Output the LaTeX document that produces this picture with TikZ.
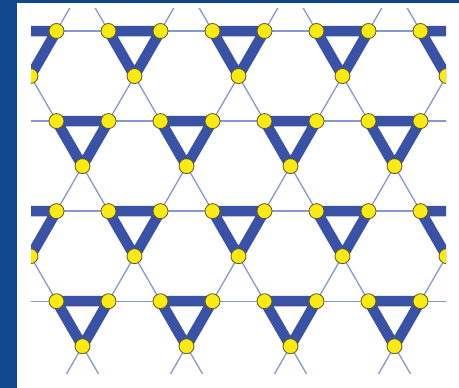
\documentclass[tikz,border=0pt]{standalone}
\definecolor{bgblue}{RGB}{16,72,142}
\definecolor{bandblue}{RGB}{58,82,166}
\definecolor{linkblue}{RGB}{132,152,210}
\definecolor{ballyellow}{RGB}{248,234,18}
\definecolor{ballrim}{RGB}{95,85,30}
\tikzset{
  thinlink/.style={draw=linkblue, line width=1.3pt},
  thickband/.style={draw=bandblue, line width=10.5pt, line join=round},
  site/.style={fill=ballyellow, draw=ballrim, line width=0.8pt}
}
\begin{document}
\begin{tikzpicture}[x=1pt,y=-1pt]
\useasboundingbox (0,0) rectangle (459,388);
\fill[bgblue] (0,0) rectangle (459,388);
\fill[white] (17,3) rectangle (459,388);
\begin{scope}
\clip (31,8) rectangle (446,373);
% thin kagome lines
\foreach \r in {0,...,3} {
  \draw[thinlink] (0,{31+90.07*\r}) -- (459,{31+90.07*\r});
}
\foreach \k in {-4,...,8} {
  \draw[thinlink] ({56.5+104*\k+0.5774*51}, -20) -- ({56.5+104*\k-0.5774*369}, 400);
  \draw[thinlink] ({4.5+104*\k-0.5774*51}, -20) -- ({4.5+104*\k+0.5774*369}, 400);
}
% thick down triangles
\foreach \r in {0,2} {
  \foreach \k in {0,...,4} {
    \pgfmathsetmacro{\L}{4.5+104*\k}
    \pgfmathsetmacro{\Y}{31+90.07*\r}
    \draw[thickband] (\L,\Y) -- ({\L+52},\Y) -- ({\L+26},{\Y+45.03}) -- cycle;
  }
}
\foreach \r in {1,3} {
  \foreach \k in {0,...,3} {
    \pgfmathsetmacro{\L}{56.5+104*\k}
    \pgfmathsetmacro{\Y}{31+90.07*\r}
    \draw[thickband] (\L,\Y) -- ({\L+52},\Y) -- ({\L+26},{\Y+45.03}) -- cycle;
  }
}
% sites
\foreach \r in {0,2} {
  \foreach \k in {0,...,4} {
    \pgfmathsetmacro{\L}{4.5+104*\k}
    \pgfmathsetmacro{\Y}{31+90.07*\r}
    \path[site] (\L,\Y) circle (7.5pt);
    \path[site] ({\L+52},\Y) circle (7.5pt);
    \path[site] ({\L+26},{\Y+45.03}) circle (7.5pt);
  }
}
\foreach \r in {1,3} {
  \foreach \k in {0,...,3} {
    \pgfmathsetmacro{\L}{56.5+104*\k}
    \pgfmathsetmacro{\Y}{31+90.07*\r}
    \path[site] (\L,\Y) circle (7.5pt);
    \path[site] ({\L+52},\Y) circle (7.5pt);
    \path[site] ({\L+26},{\Y+45.03}) circle (7.5pt);
  }
}
\end{scope}
\end{tikzpicture}
\end{document}
